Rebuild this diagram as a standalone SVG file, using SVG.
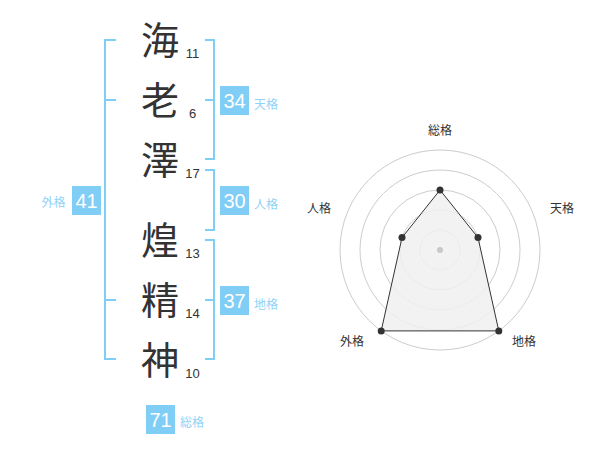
<svg xmlns="http://www.w3.org/2000/svg" width="600" height="470" viewBox="0 0 600 470">
<style>
.kanji{font-family:"Noto Sans CJK JP","Noto Sans CJK SC",sans-serif;font-size:38px;fill:#333;text-anchor:middle}
.num{font-family:"Liberation Sans",Arial,sans-serif;font-size:13px;fill:#333;text-anchor:middle}
.br{fill:none;stroke:#80cdf6;stroke-width:2}
.box{fill:#80cdf6}
.bn{font-family:"Liberation Sans",Arial,sans-serif;font-size:20px;fill:#fff;text-anchor:middle}
.lb{font-family:"Noto Sans CJK JP","Noto Sans CJK SC",sans-serif;font-size:12px;fill:#8fd3f7}
.rl{font-family:"Noto Sans CJK JP","Noto Sans CJK SC",sans-serif;font-size:12px;fill:#333;text-anchor:middle}
.ring{fill:none;stroke:#ccc;stroke-width:1}
.pt{fill:#333}
</style>
<rect width="600" height="470" fill="#fff"/>
<g id="brackets">
<path class="br" d="M116,40 H105 V359 H116 M105,100 H116 M105,300 H116"/>
<path class="br" d="M205,40 H214 V159 H205 M214,100 H205"/>
<path class="br" d="M205,170 H214 V230 H205"/>
<path class="br" d="M205,240 H214 V359 H205 M214,300 H205"/>
</g>
<g id="characters">
<g id="c1"><text class="kanji" x="160" y="54">海</text><text class="num" x="192.5" y="58">11</text></g>
<g id="c2"><text class="kanji" x="160" y="114">老</text><text class="num" x="192.5" y="118">6</text></g>
<g id="c3"><text class="kanji" x="160" y="174">澤</text><text class="num" x="192.5" y="178">17</text></g>
<g id="c4"><text class="kanji" x="160" y="254">煌</text><text class="num" x="192.5" y="258">13</text></g>
<g id="c5"><text class="kanji" x="160" y="314">精</text><text class="num" x="192.5" y="318">14</text></g>
<g id="c6"><text class="kanji" x="160" y="374">神</text><text class="num" x="192.5" y="378">10</text></g>
</g>
<g id="tenkaku"><rect class="box" x="220" y="86" width="29" height="29"/><text class="bn" x="234.5" y="108">34</text><text class="lb" x="254" y="108.5">天格</text></g>
<g id="jinkaku"><rect class="box" x="220" y="186" width="29" height="29"/><text class="bn" x="234.5" y="208">30</text><text class="lb" x="254" y="208.5">人格</text></g>
<g id="chikaku"><rect class="box" x="220" y="286" width="29" height="29"/><text class="bn" x="234.5" y="308">37</text><text class="lb" x="254" y="308.5">地格</text></g>
<g id="gaikaku"><rect class="box" x="72" y="186" width="29" height="29"/><text class="bn" x="86.5" y="208">41</text><text class="lb" x="41.5" y="207">外格</text></g>
<g id="soukaku"><rect class="box" x="146" y="405" width="29" height="29"/><text class="bn" x="160.5" y="427">71</text><text class="lb" x="180" y="426.5">総格</text></g>
<g id="radar">
<circle class="ring" cx="440" cy="250" r="20"/>
<circle class="ring" cx="440" cy="250" r="40"/>
<circle class="ring" cx="440" cy="250" r="60"/>
<circle class="ring" cx="440" cy="250" r="80"/>
<circle class="ring" cx="440" cy="250" r="100"/>
<polygon points="440,190 478,237.6 498.8,330.9 381.2,330.9 402,237.6" fill="#f0f0f0" fill-opacity="0.85" stroke="#333" stroke-width="1"/>
<circle cx="440" cy="250" r="3" fill="#c8c8c8"/>
<circle class="pt" cx="440" cy="190" r="3.5"/>
<circle class="pt" cx="478" cy="237.6" r="3.5"/>
<circle class="pt" cx="498.8" cy="330.9" r="3.5"/>
<circle class="pt" cx="381.2" cy="330.9" r="3.5"/>
<circle class="pt" cx="402" cy="237.6" r="3.5"/>
<text class="rl" x="440" y="135">総格</text>
<text class="rl" x="562" y="212.5">天格</text>
<text class="rl" x="524" y="346">地格</text>
<text class="rl" x="352" y="346">外格</text>
<text class="rl" x="319" y="212.5">人格</text>
</g>
</svg>
